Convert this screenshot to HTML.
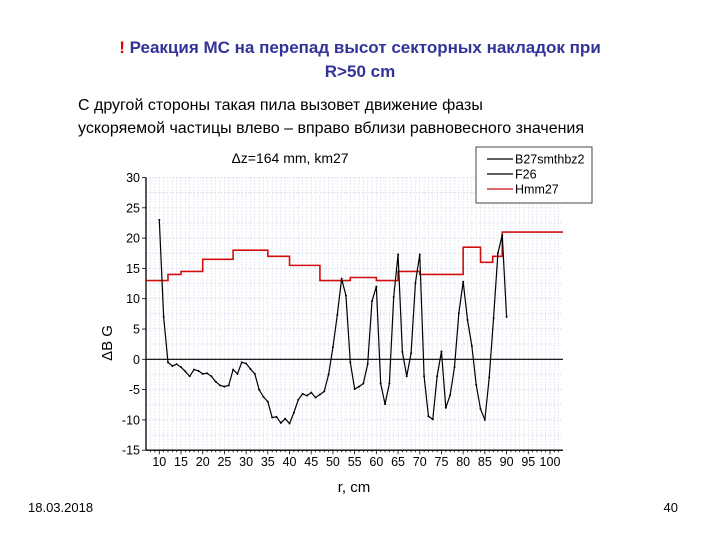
<!DOCTYPE html>
<html><head><meta charset="utf-8"><style>
body{margin:0;width:720px;height:540px;background:#fff;overflow:hidden;font-family:"Liberation Sans",sans-serif;}
</style></head><body>
<svg width="720" height="540" xmlns="http://www.w3.org/2000/svg" font-family="Liberation Sans, sans-serif">
<text x="360" y="53" text-anchor="middle" font-size="17" font-weight="bold" fill="#333399"><tspan fill="#e00000">!</tspan> Реакция МС на перепад высот секторных накладок при</text>
<text x="360" y="77" text-anchor="middle" font-size="17" font-weight="bold" fill="#333399">R&gt;50 cm</text>
<text x="78" y="110" font-size="16" fill="#000">С другой стороны такая пила вызовет движение фазы</text>
<text x="78" y="133" font-size="16" fill="#000">ускоряемой частицы влево – вправо вблизи равновесного значения</text>
<text x="28" y="512" font-size="13">18.03.2018</text>
<text x="678" y="512" font-size="13" text-anchor="end">40</text>
<g id="chart"></g>
</svg>
<script>
const rValues=[10,11,12,13,14,15,16,17,18,19,20,21,22,23,24,25,26,27,28,29,30,31,32,33,34,35,36,37,38,39,40,41,42,43,44,45,46,47,48,49,50,51,52,53,54,55,56,57,58,59,60,61,62,63,64,65,66,67,68,69,70,71,72,73,74,75,76,77,78,79,80,81,82,83,84,85,86,87,88,89,90];
const bValues=[23,7,-0.5,-1.1,-0.8,-1.3,-2,-2.8,-1.7,-1.9,-2.4,-2.3,-2.8,-3.7,-4.3,-4.5,-4.3,-1.7,-2.4,-0.5,-0.7,-1.6,-2.4,-5,-6.2,-7,-9.6,-9.5,-10.5,-9.8,-10.6,-8.8,-6.7,-5.7,-6,-5.5,-6.3,-5.8,-5.3,-2.5,2,7.3,13.3,10.5,-0.5,-4.9,-4.5,-4,-0.8,9.6,12,-4,-7.4,-4,10.3,17.3,1.2,-2.8,1,12.6,17.3,-2.8,-9.4,-9.9,-2.8,1.3,-8,-5.9,-1.3,7.6,12.8,6.5,2.2,-4.2,-8.2,-10,-3,6.8,17.5,20.5,7];
const stepEdges=[7,12,15,20,27,35,40,47,54,60,65,70,80,84,86.8,89,103];
const stepValues=[13,14,14.5,16.5,18,17,15.5,13,13.5,13,14.5,14,18.5,16,17,21];
const xTicks=[10,15,20,25,30,35,40,45,50,55,60,65,70,75,80,85,90,95,100];
const yTicks=[30,25,20,15,10,5,0,-5,-10,-15];
const NS="http://www.w3.org/2000/svg";
const g=document.getElementById('chart');
const X=v=>159.3+(v-10)*4.341;
const Y=v=>359.3-v*6.06;
const L=146,R=563,T=Y(30),B=Y(-15);
function mk(t,a,p){const e=document.createElementNS(NS,t);for(const k in a)e.setAttribute(k,a[k]);(p||g).appendChild(e);return e;}
for(let v=8;v<=102;v++){const e=mk('line',{x1:X(v),x2:X(v),y1:T,y2:B,stroke:'#b8c2e0','stroke-width':0.7,'stroke-dasharray':'1,2'});

}
for(let v=-15;v<=30;v+=2.5){const e=mk('line',{x1:L,x2:R,y1:Y(v),y2:Y(v),stroke:'#b8c2e0','stroke-width':0.7,'stroke-dasharray':'1,2'});

}
let ax=mk('line',{x1:L,x2:L,y1:T,y2:B,stroke:'#000','stroke-width':1.3});


ax=mk('line',{x1:L,x2:R,y1:B,y2:B,stroke:'#000','stroke-width':1.3});


ax=mk('line',{x1:L,x2:R,y1:Y(0),y2:Y(0),stroke:'#000','stroke-width':1.2});


for(let v=8;v<=102;v++){mk('line',{x1:X(v),x2:X(v),y1:B,y2:B+(v%5==0?4:2),stroke:'#000','stroke-width':0.8});}
xTicks.forEach(v=>{const t=mk('text',{x:X(v),y:B+16,'font-size':12.5,'text-anchor':'middle'});t.textContent=v;

});
yTicks.forEach(v=>{mk('line',{x1:L-4,x2:L,y1:Y(v),y2:Y(v),stroke:'#000','stroke-width':0.8});
const t=mk('text',{x:L-6,y:Y(v)+4.5,'font-size':12.5,'text-anchor':'end'});t.textContent=v;

});
let t=mk('text',{x:354,y:492,'font-size':15,'text-anchor':'middle'});t.textContent='r, cm';


t=mk('text',{x:0,y:0,'font-size':15,'text-anchor':'middle',transform:'translate(112,343) rotate(-90)'});t.textContent='ΔB G';


t=mk('text',{x:290,y:163,'font-size':14,'text-anchor':'middle'});t.textContent='Δz=164 mm, km27';


let d='';stepValues.forEach((v,i)=>{d+=(i?'L':'M')+X(stepEdges[i])+','+Y(v)+'L'+X(stepEdges[i+1])+','+Y(v);});
let p=mk('path',{d:d,fill:'none',stroke:'#d01010','stroke-width':1.6});


d='';rValues.forEach((r,i)=>{d+=(i?'L':'M')+X(r)+','+Y(bValues[i]);});
p=mk('path',{d:d,fill:'none',stroke:'#000','stroke-width':1.2});


rValues.forEach((r,i)=>{const c=mk('circle',{cx:X(r),cy:Y(bValues[i]),r:1,fill:'#000'});

});
const lg=mk('g',{});


mk('rect',{x:476,y:147,width:116,height:56,fill:'#fff',stroke:'#444','stroke-width':1},lg);
const names=['B27smthbz2','F26','Hmm27'],cols=['#000','#000','#d01010'];
names.forEach((n,i)=>{const y=159+i*15;mk('line',{x1:487,x2:513,y1:y,y2:y,stroke:cols[i],'stroke-width':1.3},lg);
const tt=mk('text',{x:515,y:y+4.5,'font-size':12.5},lg);tt.textContent=n;

});
</script>
</body></html>
